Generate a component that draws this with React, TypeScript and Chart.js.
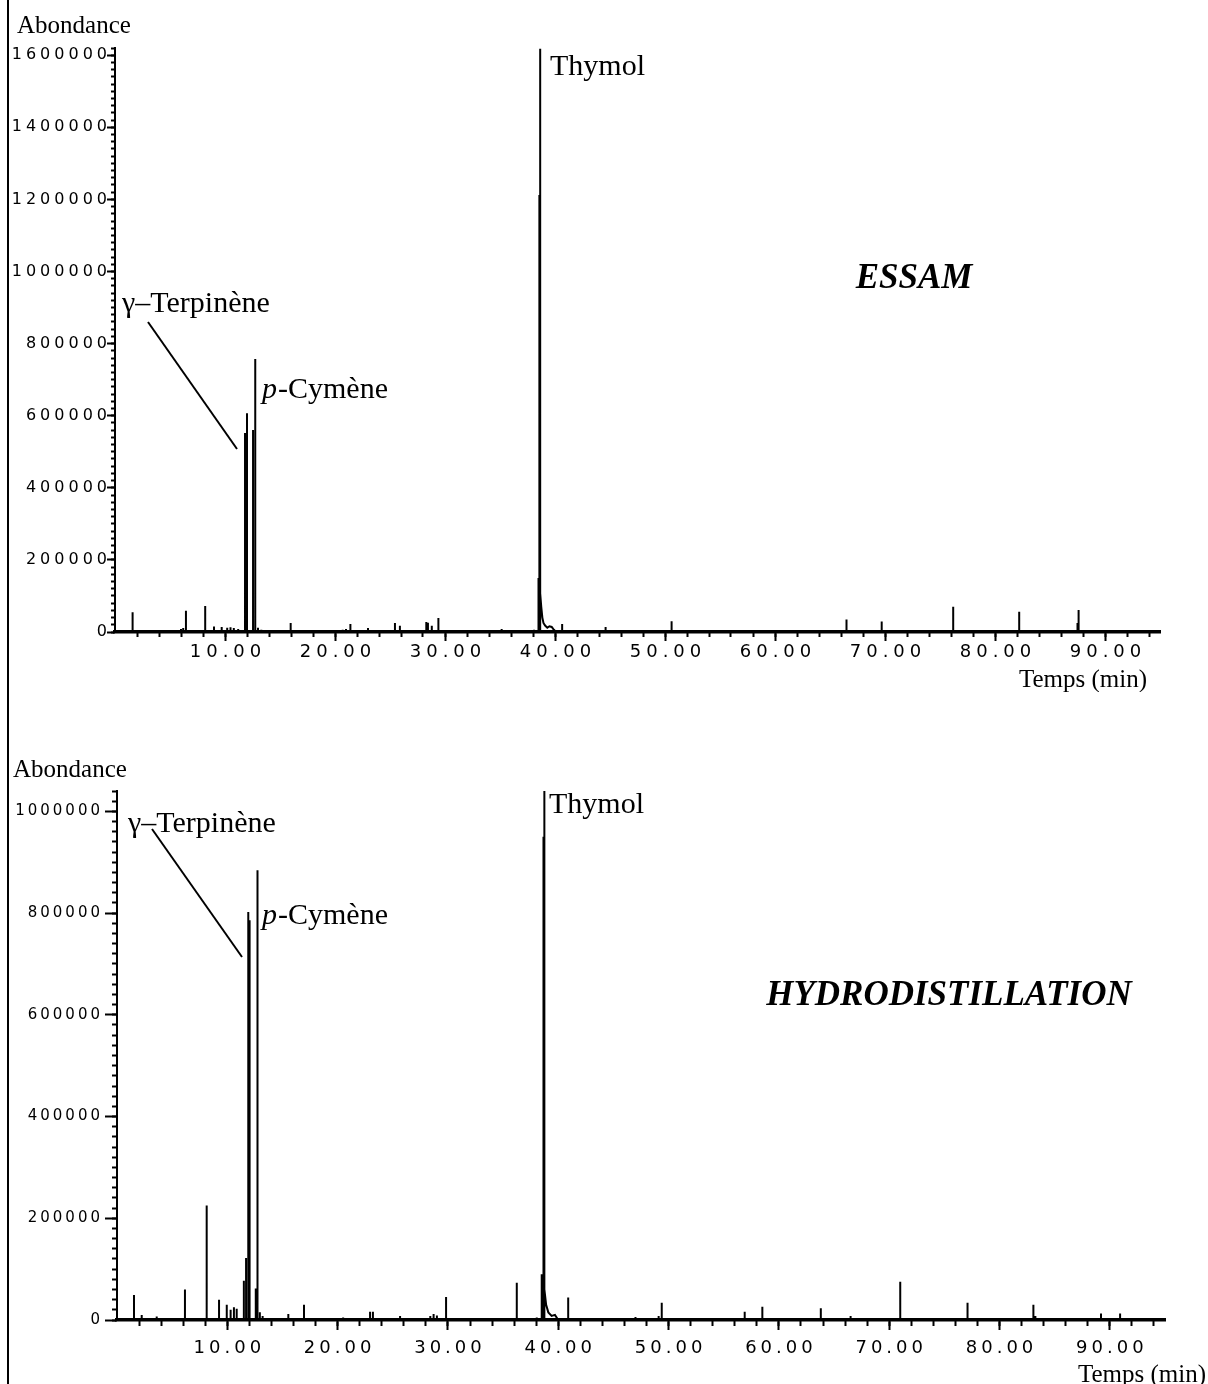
import React, { useEffect, useRef } from "react";
import { Chart, registerables } from "chart.js";

Chart.register(...registerables);

// ---------- DATA (retention time in min, abundance) ----------
const essamPeaks: [number, number][] = [
  [1.6, 55000], [6.0, 8000], [6.2, 11000], [6.45, 59000], [8.2, 72000],
  [9.0, 15000], [9.7, 14000], [10.2, 12000], [10.5, 13000], [10.8, 11000],
  [11.2, 8000], [11.82, 552000], [12.0, 607000], [12.55, 560000], [12.75, 757000],
  [13.0, 12000], [13.3, 6000], [15.97, 25000], [18.7, 5000], [20.7, 6000],
  [21.0, 8000], [21.4, 22000], [23.0, 11000], [23.4, 5000], [25.45, 25000],
  [25.9, 17000], [27.1, 5000], [28.3, 28000], [28.45, 26000], [28.8, 17000],
  [29.4, 39000], [30.0, 5000], [35.15, 8000], [38.1, 6000], [38.5, 150000],
  [38.58, 1212000], [38.64, 1618000], [40.65, 22000], [44.6, 14000], [50.6, 30000],
  [56.45, 4000], [61.5, 4000], [62.4, 3000], [66.5, 35000], [69.7, 29000],
  [76.2, 70000], [82.2, 56000], [87.5, 25000], [87.6, 61000], [92.9, 3000],
];
const essamThymolTail: [number, number][] = [
  [38.68, 107000], [38.75, 70000], [38.85, 40000], [38.95, 25000], [39.1, 18000],
  [39.3, 12000], [39.5, 16000], [39.7, 14000], [39.9, 6000], [40.1, 0],
];

const hydroPeaks: [number, number][] = [
  [1.54, 49000], [2.24, 10000], [3.6, 7000], [6.16, 60000], [8.13, 225000],
  [9.25, 40000], [9.95, 30000], [10.3, 20000], [10.6, 25000], [10.85, 22000],
  [11.5, 77000], [11.7, 122000], [11.9, 802000], [12.02, 786000], [12.58, 62000],
  [12.7, 841000], [12.76, 884000], [12.95, 15000], [13.2, 8000], [15.53, 12000],
  [16.95, 30000], [18.2, 3000], [19.4, 3000], [20.5, 5000], [22.94, 16000],
  [23.2, 16000], [24.6, 3000], [25.66, 8000], [27.2, 3000], [28.4, 8000],
  [28.7, 12000], [29.0, 9000], [29.83, 45000], [31.2, 3000], [32.4, 3000],
  [33.5, 3000], [34.6, 4000], [36.24, 73000], [38.05, 5000], [38.5, 90000],
  [38.66, 950000], [38.72, 1040000], [40.9, 44000], [44.5, 3000], [47.0, 6000],
  [49.1, 8000], [49.38, 34000], [56.9, 16000], [58.5, 26000], [63.8, 23000],
  [66.5, 8000], [71.0, 75000], [77.1, 34000], [83.07, 30000], [83.25, 8000],
  [89.2, 13000], [90.93, 13000],
];
const hydroThymolTail: [number, number][] = [
  [38.78, 60000], [38.9, 30000], [39.1, 15000], [39.4, 8000], [39.7, 10000], [40.0, 0],
];

const timeRange: [number, number] = [0, 95];
const xTickValues = [10, 20, 30, 40, 50, 60, 70, 80, 90];
const xTickLabels = ["10.00", "20.00", "30.00", "40.00", "50.00", "60.00", "70.00", "80.00", "90.00"];
const essamYTicks = [0, 200000, 400000, 600000, 800000, 1000000, 1200000, 1400000, 1600000];
const essamYLabels = ["0", "200000", "400000", "600000", "800000", "1000000", "1200000", "1400000", "1600000"];
const hydroYTicks = [0, 200000, 400000, 600000, 800000, 1000000];
const hydroYLabels = ["0", "200000", "400000", "600000", "800000", "1000000"];
const essamYMax = 1620000;
const hydroYMax = 1040000;

const yAxisTitle = "Abondance";
const xAxisTitle = "Temps (min)";
const compoundThymol = "Thymol";
const compoundTerpinene = "γ–Terpinène";
const compoundCymeneItalic = "p";
const compoundCymeneRest = "-Cymène";

// ---------- helpers ----------
function buildProfile(peaks: [number, number][], tail: [number, number][]) {
  const pts: { x: number; y: number }[] = [{ x: timeRange[0], y: 0 }];
  const all: { x: number; ys: number[] }[] = [];
  peaks.forEach(([t, h]) => all.push({ x: t, ys: [0, h, 0] }));
  tail.forEach(([t, h]) => all.push({ x: t, ys: [h] }));
  all.sort((a, b) => a.x - b.x);
  all.forEach((p) => p.ys.forEach((y) => pts.push({ x: p.x, y })));
  pts.push({ x: timeRange[1], y: 0 });
  return pts;
}

function labelFor(values: number[], labels: string[], v: number) {
  for (let i = 0; i < values.length; i++) {
    if (Math.abs(values[i] - v) < 1e-6) return labels[i];
  }
  return "";
}

const SERIF = '"Liberation Serif", "Times New Roman", serif';
const SANS = '"DejaVu Sans", sans-serif';

type Spec = {
  top: number;
  peaks: [number, number][];
  tail: [number, number][];
  yMax: number;
  yTicks: number[];
  yLabels: string[];
  padding: { left: number; right: number; top: number; bottom: number };
  yWidth: number;
  yMajorLen: number;
  yMinorLen: number;
  yPad: number;
  yFont: number;
  yLS: number;
  xMajorLen: number;
  xMinorLen: number;
  xPad: number;
  xFont: number;
  xLS: number;
  xShift: number;
  labels: {
    abond: [number, number];
    thymol: [number, number];
    terp: [number, number];
    cym: [number, number];
    leader: [number, number, number, number];
    title: [number, number, string];
    temps: [number, number];
  };
};

const specs: Spec[] = [
  {
    top: 0,
    peaks: essamPeaks,
    tail: essamThymolTail,
    yMax: essamYMax,
    yTicks: essamYTicks,
    yLabels: essamYLabels,
    padding: { left: 0, right: 48, top: 48, bottom: 20 },
    yWidth: 115,
    yMajorLen: 8,
    yMinorLen: 4,
    yPad: -4,
    yFont: 16,
    yLS: 4,
    xMajorLen: 9,
    xMinorLen: 5,
    xPad: 1,
    xFont: 18,
    xLS: 5,
    xShift: 3,
    labels: {
      abond: [17, 33],
      thymol: [550, 75],
      terp: [122, 312],
      cym: [262, 398],
      leader: [148, 322, 237, 449],
      title: [914, 288, "ESSAM"],
      temps: [1019, 687],
    },
  },
  {
    top: 692,
    peaks: hydroPeaks,
    tail: hydroThymolTail,
    yMax: hydroYMax,
    yTicks: hydroYTicks,
    yLabels: hydroYLabels,
    padding: { left: 0, right: 43, top: 99, bottom: 24 },
    yWidth: 117,
    yMajorLen: 12,
    yMinorLen: 5,
    yPad: 2,
    yFont: 15,
    yLS: 3,
    xMajorLen: 10,
    xMinorLen: 6,
    xPad: 8,
    xFont: 18,
    xLS: 4,
    xShift: 2,
    labels: {
      abond: [13, 85],
      thymol: [549, 121],
      terp: [128, 140],
      cym: [262, 232],
      leader: [152, 137, 242, 265],
      title: [949, 313, "HYDRODISTILLATION"],
      temps: [1078, 690],
    },
  },
];

function makePlugin(spec: Spec) {
  return {
    id: "decor",
    beforeDraw(chart: any) {
      const ctx = chart.ctx;
      Object.entries(chart.scales).forEach(([id, scale]: [string, any]) => {
        if (scale.__lsPatched) return;
        scale.__lsPatched = true;
        const orig = scale.drawLabels;
        const sp = id === "x" ? spec.xLS : spec.yLS;
        scale.drawLabels = function (area: any) {
          ctx.save();
          ctx.letterSpacing = sp + "px";
          orig.call(this, area);
          ctx.restore();
        };
      });
    },
    afterDraw(chart: any) {
      const ctx = chart.ctx;
      const L = spec.labels;
      ctx.save();
      ctx.letterSpacing = "0px";
      ctx.fillStyle = "#000";
      ctx.textBaseline = "alphabetic";
      ctx.textAlign = "left";
      ctx.font = `25px ${SERIF}`;
      ctx.fillText(yAxisTitle, L.abond[0], L.abond[1]);
      ctx.fillText(xAxisTitle, L.temps[0], L.temps[1]);
      ctx.font = `30px ${SERIF}`;
      ctx.fillText(compoundThymol, L.thymol[0], L.thymol[1]);
      ctx.fillText(compoundTerpinene, L.terp[0], L.terp[1]);
      ctx.font = `italic 30px ${SERIF}`;
      ctx.fillText(compoundCymeneItalic, L.cym[0], L.cym[1]);
      const pw = ctx.measureText(compoundCymeneItalic).width;
      ctx.font = `30px ${SERIF}`;
      ctx.fillText(compoundCymeneRest, L.cym[0] + pw + 1, L.cym[1]);
      ctx.font = `bold italic 35px ${SERIF}`;
      ctx.textAlign = "center";
      ctx.fillText(L.title[2], L.title[0], L.title[1]);
      ctx.strokeStyle = "#000";
      ctx.lineWidth = 2;
      ctx.beginPath();
      ctx.moveTo(L.leader[0], L.leader[1]);
      ctx.lineTo(L.leader[2], L.leader[3]);
      ctx.stroke();
      ctx.restore();
    },
  };
}

function buildConfig(spec: Spec): any {
  const hideZero = (c: any) => (c.tick && c.tick.value === 0 ? "rgba(0,0,0,0)" : "#000");
  return {
    type: "line",
    data: {
      datasets: [
        {
          data: buildProfile(spec.peaks, spec.tail),
          borderColor: "#000",
          borderWidth: 2,
          pointRadius: 0,
          tension: 0,
          fill: false,
          xAxisID: "x",
          yAxisID: "y",
        },
      ],
    },
    options: {
      responsive: false,
      animation: false,
      devicePixelRatio: 1,
      parsing: false,
      normalized: true,
      layout: { padding: spec.padding, autoPadding: false },
      plugins: { legend: { display: false }, tooltip: { enabled: false }, title: { display: false } },
      scales: {
        x: {
          type: "linear",
          position: "bottom",
          weight: 1,
          min: timeRange[0],
          max: timeRange[1],
          afterBuildTicks: (s: any) => {
            s.ticks = xTickValues.map((v) => ({ value: v }));
          },
          ticks: {
            autoSkip: false,
            maxRotation: 0,
            minRotation: 0,
            padding: spec.xPad,
            labelOffset: spec.xShift,
            color: "#000",
            font: { family: SANS, size: spec.xFont },
            callback: (v: any) => labelFor(xTickValues, xTickLabels, Number(v)),
          },
          grid: {
            drawOnChartArea: false,
            drawTicks: true,
            tickLength: spec.xMajorLen,
            tickWidth: 2,
            tickColor: "#000",
          },
          border: { display: true, color: "#000", width: 3.5 },
          afterFit: (s: any) => {
            s.height = 40;
          },
        },
        xMinor: {
          type: "linear",
          position: "bottom",
          weight: 0,
          min: timeRange[0],
          max: timeRange[1],
          ticks: { stepSize: 2, includeBounds: false, autoSkip: false, display: false },
          grid: {
            drawOnChartArea: false,
            drawTicks: true,
            tickLength: spec.xMinorLen,
            tickWidth: 2,
            tickColor: hideZero,
          },
          border: { display: false },
          afterFit: (s: any) => {
            s.height = 0;
          },
        },
        y: {
          type: "linear",
          position: "left",
          weight: 1,
          min: 0,
          max: spec.yMax,
          afterBuildTicks: (s: any) => {
            s.ticks = spec.yTicks.map((v) => ({ value: v }));
          },
          ticks: {
            autoSkip: false,
            padding: spec.yPad,
            color: "#000",
            font: { family: SANS, size: spec.yFont },
            callback: (v: any) => labelFor(spec.yTicks, spec.yLabels, Number(v)),
          },
          grid: {
            drawOnChartArea: false,
            drawTicks: true,
            tickLength: spec.yMajorLen,
            tickWidth: 2,
            tickColor: "#000",
          },
          border: { display: true, color: "#000", width: 2 },
          afterFit: (s: any) => {
            s.width = spec.yWidth;
          },
        },
        yMinor: {
          type: "linear",
          position: "left",
          weight: 0,
          min: 0,
          max: spec.yMax,
          ticks: { stepSize: 20000, includeBounds: false, autoSkip: false, display: false },
          grid: {
            drawOnChartArea: false,
            drawTicks: true,
            tickLength: spec.yMinorLen,
            tickWidth: 2,
            tickColor: "#000",
          },
          border: { display: false },
          afterFit: (s: any) => {
            s.width = 0;
          },
        },
      },
    },
    plugins: [makePlugin(spec)],
  };
}

function Panel({ spec }: { spec: Spec }) {
  const ref = useRef<HTMLCanvasElement>(null);
  useEffect(() => {
    const chart = new Chart(ref.current as HTMLCanvasElement, buildConfig(spec));
    chart.draw();
    return () => chart.destroy();
  }, [spec]);
  return (
    <canvas
      ref={ref}
      width={1208}
      height={692}
      style={{ position: "absolute", left: 0, top: spec.top, width: 1208, height: 692 }}
    />
  );
}

export default function App() {
  return (
    <div
      style={{
        position: "absolute",
        left: 0,
        top: 0,
        width: 1208,
        height: 1384,
        background: "#fff",
        overflow: "hidden",
      }}
    >
      {specs.map((s, i) => (
        <Panel key={i} spec={s} />
      ))}
      <div style={{ position: "absolute", left: 7, top: 0, width: 2, height: 1384, background: "#000" }} />
    </div>
  );
}
